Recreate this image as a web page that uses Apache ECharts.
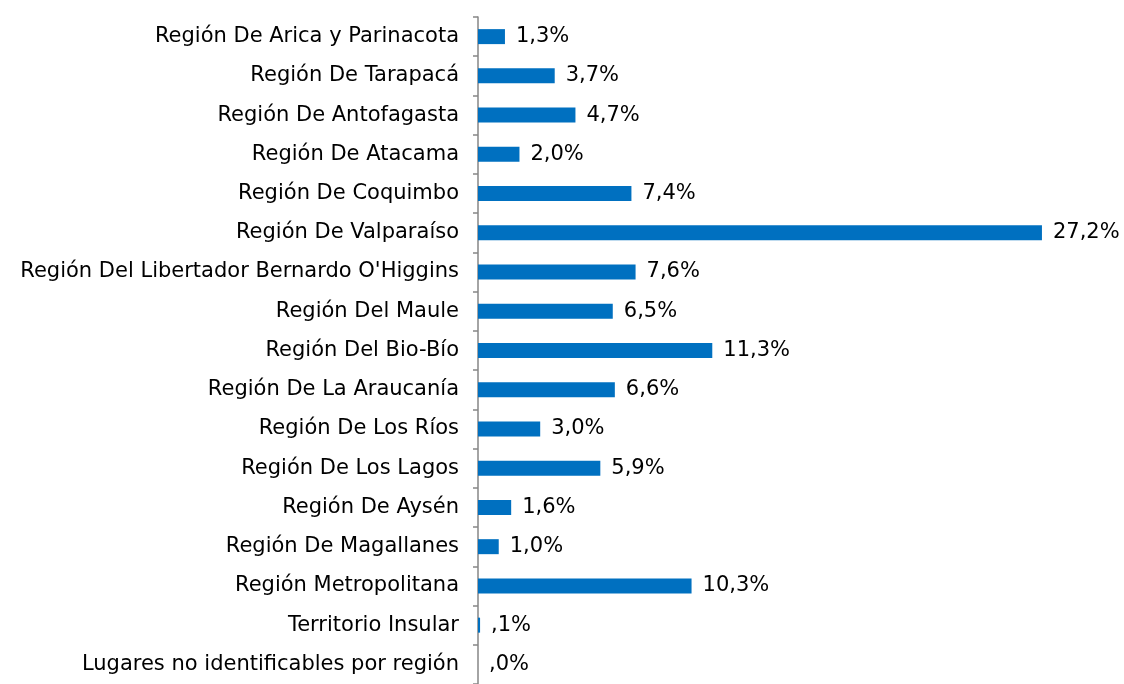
<!DOCTYPE html>
<html>
<head>
<meta charset="utf-8">
<script src="https://cdn.jsdelivr.net/npm/echarts@6/dist/echarts.min.js"></script>
<style>
  html, body { margin: 0; padding: 0; background: #fff; }
  #chart { width: 1124px; height: 684px; }
</style>
</head>
<body>
<div id="chart"></div>
<script>
// regiones, de arriba hacia abajo
const regiones = [
  'Región De Arica y Parinacota',
  'Región De Tarapacá',
  'Región De Antofagasta',
  'Región De Atacama',
  'Región De Coquimbo',
  'Región De Valparaíso',
  "Región Del Libertador Bernardo O'Higgins",
  'Región Del Maule',
  'Región Del Bio-Bío',
  'Región De La Araucanía',
  'Región De Los Ríos',
  'Región De Los Lagos',
  'Región De Aysén',
  'Región De Magallanes',
  'Región Metropolitana',
  'Territorio Insular',
  'Lugares no identificables por región'
]
const porcentajes = [1.3, 3.7, 4.7, 2.0, 7.4, 27.2, 7.6, 6.5, 11.3, 6.6, 3.0, 5.9, 1.6, 1.0, 10.3, 0.1, 0.0]

// 0,1 -> ",1%"  (sin cero delante, como en el original)
const fmt = (v) => {
  let s = v.toFixed(1).replace('.', ',')
  if (s.startsWith('0,')) s = s.slice(1)
  return s + '%'
}

const chart = echarts.init(document.getElementById('chart'))
chart.setOption({
  animation: false,
  textStyle: { fontFamily: 'DejaVu Sans, Verdana, sans-serif' },
  grid: { left: 478, top: 17, width: 622, height: 671 },
  xAxis: {
    type: 'value',
    min: 0,
    max: 30,
    show: false
  },
  yAxis: {
    type: 'category',
    inverse: true,
    data: regiones,
    axisLine: { lineStyle: { color: '#868686', width: 1.5 } },
    axisTick: { show: true, length: 5, lineStyle: { color: '#868686', width: 1.5 } },
    axisLabel: { color: '#000', fontSize: 21, margin: 19 }
  },
  series: [{
    type: 'bar',
    data: porcentajes,
    barWidth: 15,
    itemStyle: { color: '#0070C0' },
    label: {
      show: true,
      position: 'right',
      distance: 11,
      color: '#000',
      fontSize: 21,
      formatter: (p) => fmt(p.value)
    }
  }]
})
</script>
</body>
</html>
